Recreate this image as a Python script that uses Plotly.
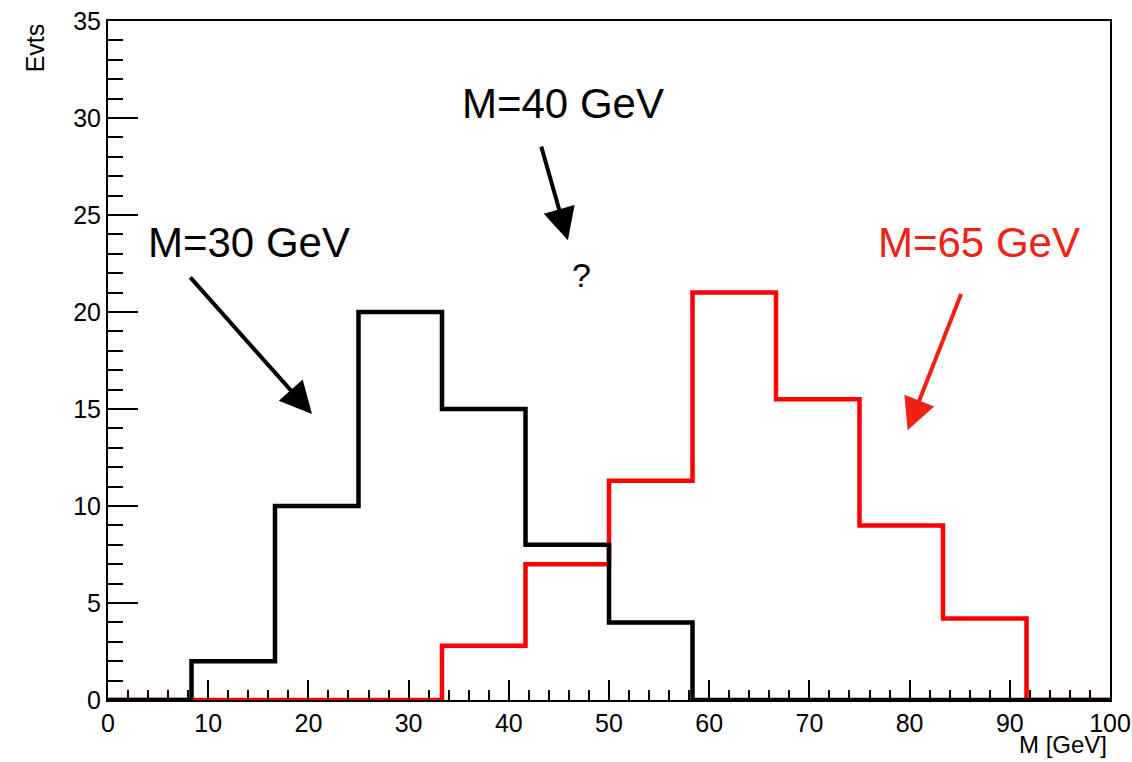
import plotly.graph_objects as go

# Histogram binning: 12 equal bins over 0-100 GeV
n_bins = 12
x_min, x_max = 0.0, 100.0
bin_edges = [x_min + i * (x_max - x_min) / n_bins for i in range(n_bins + 1)]

# Bin contents (events per bin)
counts_m30 = [0, 2, 10, 20, 15, 8, 4, 0, 0, 0, 0, 0]
counts_m65 = [0, 0, 0, 0, 2.8, 7, 11.3, 21, 15.5, 9, 4.2, 0]

y_range = [0, 35]
FONT = "Liberation Sans, Arial, Helvetica, sans-serif"
RED_TEXT = "#ee2316"


def step_points(counts):
    # 'hv' step line through the bin edges; last value repeated at the upper edge
    return bin_edges, list(counts) + [counts[-1]]


fig = go.Figure()

xs, ys = step_points(counts_m65)
fig.add_trace(go.Scatter(x=xs, y=ys, mode="lines", line=dict(color="#ff0000", width=4.5, shape="hv"),
                         cliponaxis=False, showlegend=False, hoverinfo="skip"))
xs, ys = step_points(counts_m30)
fig.add_trace(go.Scatter(x=xs, y=ys, mode="lines", line=dict(color="#000000", width=4.5, shape="hv"),
                         cliponaxis=False, showlegend=False, hoverinfo="skip"))

axis_common = dict(
    showgrid=False, zeroline=False, showline=True, linecolor="black", linewidth=2,
    mirror=True, ticks="inside", tickcolor="black", tickwidth=1.5, automargin=False,
    tickfont=dict(family=FONT, size=25, color="black"),
)
fig.update_xaxes(range=[x_min, x_max], dtick=10, tick0=0, ticklen=20, ticklabelstandoff=0,
                 minor=dict(dtick=2, ticklen=10, ticks="inside", tickcolor="black", tickwidth=1.5),
                 **axis_common)
fig.update_yaxes(range=y_range, dtick=5, tick0=0, ticklen=30,
                 minor=dict(dtick=1, ticklen=15, ticks="inside", tickcolor="black", tickwidth=1.5),
                 **axis_common)

annotations = [
    # axis titles
    dict(text="Evts", xref="paper", yref="paper", x=-0.073, y=1.0, xanchor="center", yanchor="top",
         textangle=-90, showarrow=False, font=dict(family=FONT, size=25, color="black")),
    dict(text="M [GeV]", xref="paper", yref="paper", x=0.998, y=-0.0869, xanchor="right", yanchor="bottom",
         showarrow=False, borderpad=0, font=dict(family=FONT, size=24, color="black")),
    # labels
    dict(text="M=30 GeV", x=14.07, y=23.56, xref="x", yref="y", showarrow=False,
         font=dict(family=FONT, size=42, color="black")),
    dict(text="M=40 GeV", x=45.36, y=30.77, xref="x", yref="y", showarrow=False,
         font=dict(family=FONT, size=42, color="black")),
    dict(text="M=65 GeV", x=86.93, y=23.56, xref="x", yref="y", showarrow=False,
         font=dict(family=FONT, size=42, color=RED_TEXT)),
    dict(text="?", x=47.3, y=21.9, xref="x", yref="y", showarrow=False,
         font=dict(family=FONT, size=34, color="black")),
]

# arrows: (tail x, tail y, head x, head y, colour)
arrows = [
    (8.08, 21.86, 20.36, 14.74, "black"),
    (43.2, 28.6, 45.9, 23.7, "black"),
    (85.2, 21.0, 79.8, 13.9, RED_TEXT),
    (-10.8, 16.24, -5.19, 13.76, "black"),
]
for tx, ty, hx, hy, col in arrows:
    annotations.append(dict(text="", x=hx, y=hy, ax=tx, ay=ty, xref="x", yref="y", axref="x", ayref="y",
                            showarrow=True, arrowhead=2, arrowsize=1.6, arrowwidth=4, arrowcolor=col,
                            standoff=0, startstandoff=0))

fig.update_layout(
    width=1132, height=762,
    margin=dict(l=108, r=22, t=21, b=62),
    paper_bgcolor="white", plot_bgcolor="white",
    annotations=annotations,
    font=dict(family=FONT),
)

fig.write_html("out.html")
